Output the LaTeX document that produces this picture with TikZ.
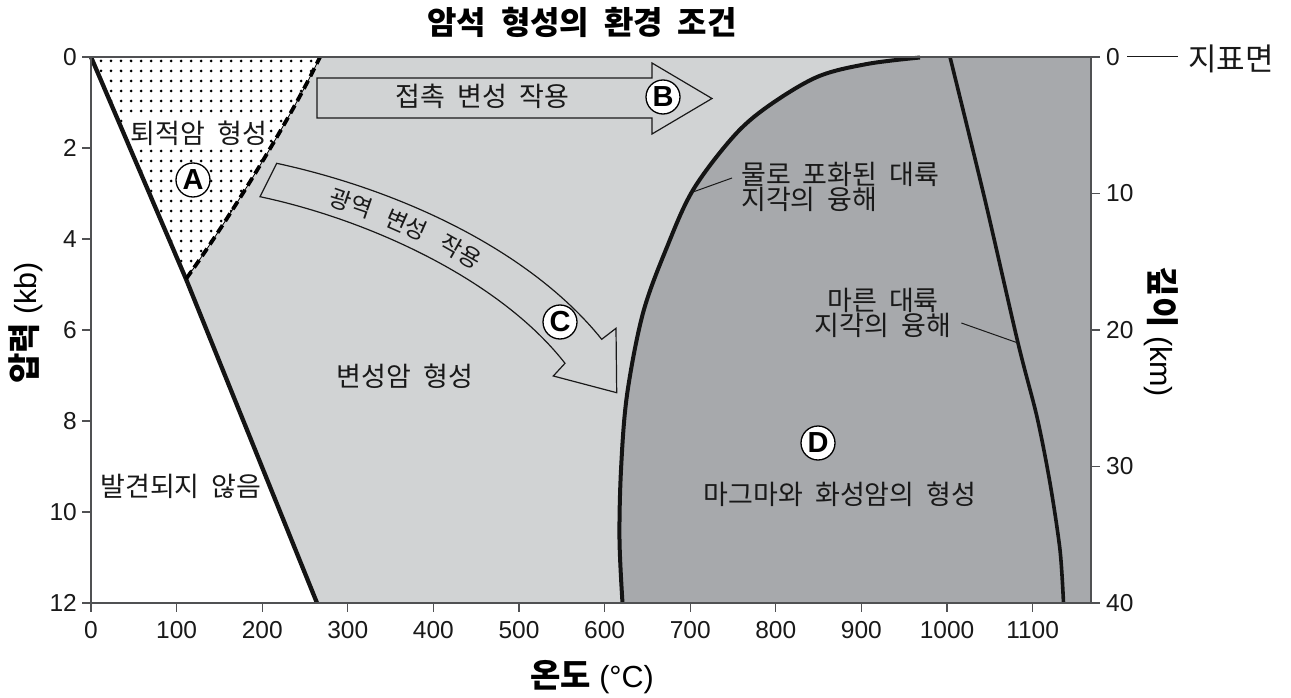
\documentclass[tikz,border=0pt]{standalone}
\usepackage{fontspec}
\setmainfont{Liberation Sans}
\newfontfamily\kr[WordSpace=2]{Noto Sans CJK KR}
\definecolor{lightg}{HTML}{D1D3D4}
\definecolor{darkg}{HTML}{A7A9AC}
\definecolor{axisg}{HTML}{505153}
\begin{document}
\begin{tikzpicture}[x=1pt,y=-1pt,
  kl/.style={font=\kr\fontsize{27}{23.5}\selectfont, text=black!90, inner sep=1pt},
  arc/.style={font=\kr\fontsize{23.5}{23.5}\selectfont, text=black!90, inner sep=0pt},
  ticklab/.style={font=\fontsize{24.5}{24.5}\selectfont, inner sep=0pt, text=black!90},
  tk/.style={line width=1.3pt, draw=axisg},
  circ/.style={circle, draw=black, line width=1.3pt, fill=white, minimum size=34pt, inner sep=0pt, font=\bfseries\fontsize{29}{29}\selectfont},
  arrowbox/.style={draw=black!90, line width=1.2pt},
  leader/.style={draw=black!90, line width=1pt},
  bigline/.style={draw=black!92, line width=4pt},
  axlab/.style={font=\fontsize{30.5}{30.5}\selectfont, inner sep=0pt}
]
\useasboundingbox (0,0) rectangle (1291,698);
% light grey region
\fill[lightg] (320,57) -- (1091,57) -- (1091,603) -- (317,603) -- (186,279)
  .. controls (225,225) and (290,120) .. (320,57) -- cycle;
% dark grey region
\fill[darkg] plot[smooth, tension=0.55] coordinates {(622.5,603) (619.5,540) (621,470) (627,395) (643,313) (667,247) (693,190) (733,137) (767,107) (817,77) (867,64) (920,57.5)} -- (1091,57) -- (1091,603) -- cycle;
% dots
\begin{scope}
\clip (91,57) -- (186,279) .. controls (225,225) and (290,120) .. (320,57) -- cycle;
\foreach \i in {0,...,23} {\foreach \j in {0,...,22} {\fill[black] (101+10*\i, 61+10*\j) circle[radius=1.5pt];}}
\end{scope}
% labels inside the dotted area (drawn before the boundary lines)
\node[kl, fill=white, inner sep=1.5pt] (sed) at (199,133) {퇴적암 형성};
\node[circ] (A) at (193,180) {A};
% boundary lines
\draw[bigline, line width=4.3pt, line join=round] (91,57) -- (186,279) -- (317,603);
\draw[black, line width=0.8pt] (186,279) .. controls (225,225) and (290,120) .. (320,57);
\draw[black, line width=3.8pt, dash pattern=on 9pt off 5pt] (186,279) .. controls (225,225) and (290,120) .. (320,57);
\draw[bigline] plot[smooth, tension=0.55] coordinates {(622.5,603) (619.5,540) (621,470) (627,395) (643,313) (667,247) (693,190) (733,137) (767,107) (817,77) (867,64) (920,57.5)};
\draw[bigline, line width=3.6pt] plot[smooth, tension=0.5] coordinates {(950,57) (985,200) (1018,343) (1037,417) (1050,483) (1060,550) (1063.5,603)};
\coordinate (wetpt) at (693,192);
\coordinate (drypt) at (1018,343);
% frame
\draw[axisg, line width=1.6pt] (91,57) rectangle (1091,603);
% ticks
\foreach \y/\l in {57/0,148/2,239/4,330/6,421/8,512/10,603/12} {
  \draw[tk] (82,\y) -- (91,\y);
  \node[ticklab, anchor=east] (ly\l) at (77,\y) {\l};
}
\foreach \x/\l in {91/0,176.6/100,262.2/200,347.8/300,433.4/400,519/500,604.6/600,690.2/700,775.8/800,861.4/900,947/1000,1032.6/1100} {
  \draw[tk] (\x,603) -- (\x,612);
  \node[ticklab] (lx\l) at (\x,630) {\l};
}
\foreach \y/\l in {57/0,193.5/10,330/20,466.5/30,603/40} {
  \draw[tk] (1091,\y) -- (1100,\y);
  \node[ticklab, anchor=west] (r\l) at (1106,\y) {\l};
}
\node[kl, font=\kr\fontsize{31}{31}\selectfont, anchor=west, inner sep=0pt] (surf) at (1188,59) {지표면};
\draw[leader, shorten <=7pt, shorten >=10pt] (r0.east) -- (r0.east -| surf.west);
% B arrow
\draw[arrowbox] (317,78) -- (652,78) -- (652,63) -- (712,98.5) -- (652,134) -- (652,118) -- (317,118) -- cycle;
\node[kl] (contact) at (482.5,96) {접촉 변성 작용};
\node[circ] (B) at (663,97) {B};
% C arrow
\draw[arrowbox] (276.7,163.3) .. controls (400,190) and (530,250) .. (601.7,339.3) -- (616,328.3) -- (616.7,392.7) -- (553.3,376) -- (565,363.3) .. controls (500,280) and (370,220) .. (260,196.7) -- cycle;
\path (268.3,180) .. controls (385,205) and (515,265) .. (583.3,351.3)
  node[arc, sloped, pos=0.233] (w1) {광역}
  node[arc, sloped, pos=0.39] (w2) {변성}
  node[arc, sloped, pos=0.551] (w3) {작용};
\node[circ] (C) at (560,322) {C};
% region labels
\node[kl] (notfound) at (181,486) {발견되지 않음};
\node[kl] (meta) at (405,376) {변성암 형성};
\node[circ] (D) at (818,443) {D};
\node[kl] (magma) at (840,494) {마그마와 화성암의 형성};
\node[kl, align=left, anchor=west] (wetlab) at (740,187) {물로 포화된 대륙\\지각의 융해};
\draw[leader] ([shift={(-8,-9)}]wetlab.west) -- (wetpt);
\node[kl, align=center] (drylab) at (883,313) {마른 대륙\\지각의 융해};
\draw[leader] ([shift={(9,10)}]drylab.east) -- (drypt);
% titles
\node[font=\kr\bfseries\fontsize{32}{32}\selectfont] (title) at (582,22) {암석 형성의 환경 조건};
\node[axlab] (xlab) at (592,677) {{\kr\bfseries\fontsize{33}{33}\selectfont 온도} (°C)};
\node[axlab, rotate=90] (ylab) at (26,323) {{\kr\bfseries\fontsize{33}{33}\selectfont 압력} (kb)};
\node[axlab, rotate=-90] (rlab) at (1161,332) {{\kr\bfseries\fontsize{33}{33}\selectfont 깊이} (km)};
\end{tikzpicture}
\end{document}
